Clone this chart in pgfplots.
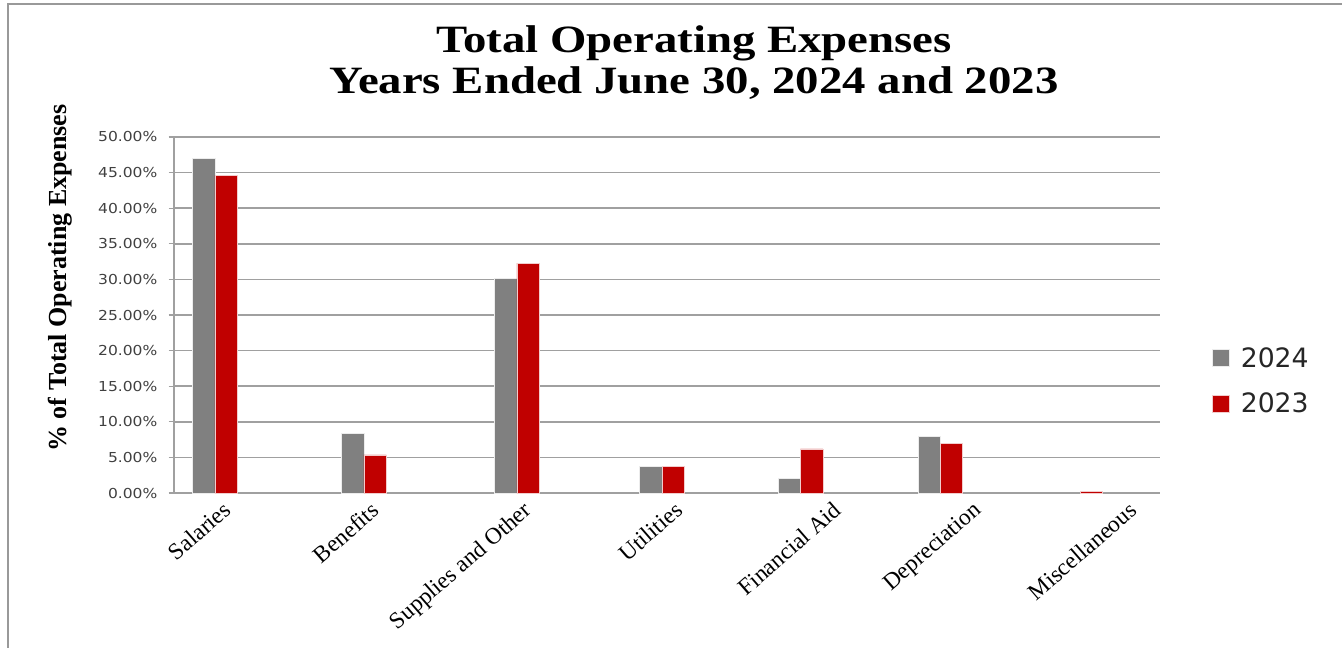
\documentclass[border=0pt]{standalone}
\usepackage{pgfplots}
\pgfplotsset{compat=1.18}
\usepackage{fontspec}
\setmainfont{Liberation Serif}
\newfontfamily\sansf{DejaVu Sans}
\definecolor{gbar}{HTML}{808080}
\definecolor{rbar}{HTML}{C00000}
\definecolor{gridc}{HTML}{A0A0A0}
\definecolor{tickc}{HTML}{404040}
\begin{document}
\begin{tikzpicture}
\path[use as bounding box] (0pt,0pt) rectangle (1006.5pt,-486pt);
\draw[gray!80, line width=0.9pt] (6pt,-486pt) -- (6pt,-3pt) -- (1006.5pt,-3pt);
\begin{axis}[
  at={(130.5pt,-369.75pt)}, anchor=south west,
  scale only axis, width=739.5pt, height=267pt,
  ybar, bar width=0.155,
  xmin=-0.284, xmax=6.553, ymin=0, ymax=50,
  axis x line*=bottom, axis y line*=left,
  axis line style={-, gridc, line width=1.1pt},
  ytick={0,5,...,50},
  yticklabels={0.00\%,5.00\%,10.00\%,15.00\%,20.00\%,25.00\%,30.00\%,35.00\%,40.00\%,45.00\%,50.00\%},
  y tick label style={font=\sansf\fontsize{10.3}{12}\selectfont, text=tickc, xscale=1.13, xshift=-4pt},
  ytick style={gridc, line width=0.8pt},
  tick align=outside, major tick length=4pt,
  ymajorgrids, grid style={gridc, line width=1.1pt},
  xtick={0.049,1.075,2.13,3.18,4.28,5.25,6.33},
  xticklabels={Salaries,Benefits,Supplies and Other,Utilities,Financial Aid,Depreciation,Miscellaneous},
  x tick label style={font=\fontsize{17.5}{19}\selectfont, rotate=41, anchor=north east, inner sep=1pt},
  xtick style={draw=none},
  legend style={at={(1.048,0.425)}, anchor=north west, draw=none, fill=none,
    font=\sansf\fontsize{20}{22}\selectfont, text=black!85, row sep=14pt},
  legend image code/.code={\fill[#1] (0pt,-6pt) rectangle (13pt,6.5pt);},
  legend cell align=left,
]
\addplot[fill=gbar, draw=white!85!gray, line width=0.4pt, bar shift=-0.0775] coordinates {(0,47.05) (1.033,8.38) (2.094,30.1) (3.1,3.7) (4.06,2.06) (5.03,8.0)};
\addplot[fill=rbar, draw=white!80!rbar, line width=0.4pt, bar shift=0.0775] coordinates {(0,44.6) (1.033,5.34) (2.094,32.3) (3.1,3.7) (4.06,6.2) (5.03,6.98) (6,0.28)};
\legend{\hspace*{6.5pt}2024,\hspace*{6.5pt}2023}
\end{axis}
\node[font=\bfseries\fontsize{29}{34}\selectfont, xscale=1.21] at (520.5pt,-32.5pt) {Total Operating Expenses};
\node[font=\bfseries\fontsize{29}{34}\selectfont, xscale=1.21] at (520.5pt,-62.5pt) {Years Ended June 30, 2024 and 2023};
\node[font=\bfseries\fontsize{19.5}{22}\selectfont, rotate=90] at (45pt,-208.5pt) {\% of Total Operating Expenses};
\end{tikzpicture}
\end{document}
